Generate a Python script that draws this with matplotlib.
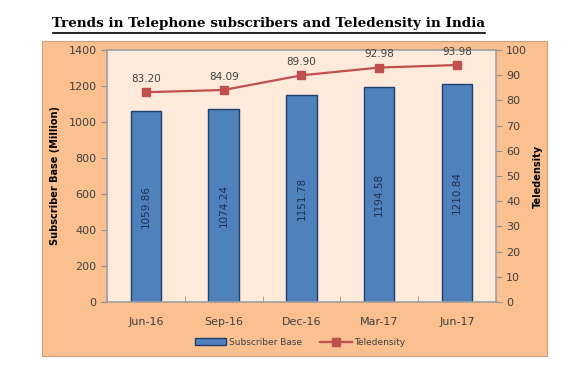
import numpy as np
import matplotlib.pyplot as plt
from matplotlib.patches import Rectangle

quarters = ['Jun-16', 'Sep-16', 'Dec-16', 'Mar-17', 'Jun-17']
subscribers = [1059.86, 1074.24, 1151.78, 1194.58, 1210.84]
teledensity = [83.20, 84.09, 89.90, 92.98, 93.98]

txt = '#404040'

fig = plt.figure(figsize=(5.77, 3.72), dpi=100)
fig.patch.set_facecolor('white')

# orange chart area
fig.patches.append(Rectangle((0.073, 0.043), 0.875, 0.847, transform=fig.transFigure,
                             facecolor='#FAC090', edgecolor='#C8A080', lw=0.8, zorder=-1))

fig.text(0.466, 0.938, 'Trends in Telephone subscribers and Teledensity in India',
         ha='center', va='center', fontsize=9.7, fontweight='bold',
         family='DejaVu Serif', color='black')
fig.add_artist(plt.Line2D([0.092, 0.841], [0.912, 0.912], color='black', lw=1.2))

ax = fig.add_axes([0.1854, 0.188, 0.674, 0.678])
ax.set_facecolor('#FDEADA')
x = np.arange(len(quarters))
bars = ax.bar(x, subscribers, width=0.39, color='#4F81BD', edgecolor='#1F3F6F',
              lw=1.0, label='Subscriber Base', zorder=2)
for xi, v in zip(x, subscribers):
    ax.text(xi, v / 2, f'{v:.2f}', rotation=90, ha='center', va='center',
            fontsize=7.5, color='#1F2F4F', zorder=3)

ax.set_xlim(-0.5, len(quarters) - 0.5)
ax.set_ylim(0, 1400)
ax.set_yticks(range(0, 1401, 200))
ax.set_xticks(x)
ax.set_xticklabels(quarters)
ax.set_xticks(np.arange(-0.5, len(quarters), 1), minor=True)
ax.tick_params(axis='x', which='major', length=0, pad=11, labelsize=8, labelcolor=txt)
ax.tick_params(axis='x', which='minor', length=4, direction='in', color='#909090')
ax.tick_params(axis='y', labelsize=8, labelcolor=txt, length=4, color='#909090')
ax.set_ylabel('Subscriber Base (Million)', fontsize=7, fontweight='bold', color='black', labelpad=6)
for s in ax.spines.values():
    s.set_color('#A0A0A0')
    s.set_linewidth(1.2)

ax2 = ax.twinx()
line, = ax2.plot(x, teledensity, color='#C0504D', lw=1.6, marker='s', markersize=6,
                 label='Teledensity', zorder=4)
for xi, v in zip(x, teledensity):
    ax2.text(xi, v + 3.2, f'{v:.2f}', ha='center', va='bottom', fontsize=7.5, color=txt)
ax2.set_ylim(0, 100)
ax2.set_yticks(range(0, 101, 10))
ax2.tick_params(axis='y', labelsize=8, labelcolor=txt, length=4, color='#909090')
ax2.set_ylabel('Teledensity', fontsize=7, fontweight='bold', color='black', labelpad=4)
for s in ax2.spines.values():
    s.set_visible(False)

fig.legend([bars, line], ['Subscriber Base', 'Teledensity'], loc='center',
           bbox_to_anchor=(0.52, 0.08), ncol=2, frameon=False, fontsize=6.5,
           labelcolor=txt, handlelength=3.5, columnspacing=2, handletextpad=0.3)

fig.savefig('out.png', dpi=100, facecolor='white')
